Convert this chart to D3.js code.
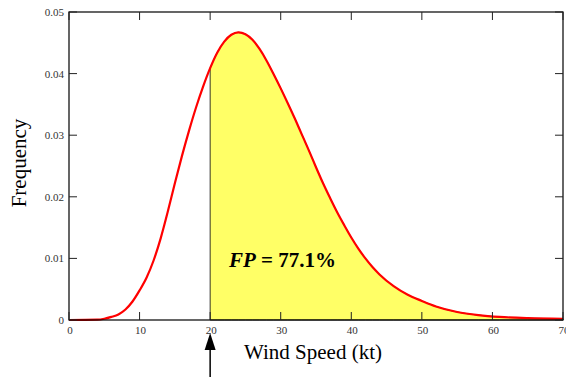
<!DOCTYPE html>
<html>
<head>
<meta charset="utf-8">
<script src="https://cdn.jsdelivr.net/npm/d3@7"></script>
<style>
  body { margin: 0; background: #fff; }
  svg { display: block; font-family: "Liberation Serif", "Times New Roman", serif; }
</style>
</head>
<body>
<div id="chart"></div>
<script>
// wind speed (kt) and frequency
const speeds = [0, 4, 5, 6, 7, 8, 9, 10, 11, 12, 13, 14, 15, 16, 17, 18, 19, 20, 21, 22, 23, 24, 25,
    26, 27, 28, 29, 30, 31, 32, 33, 34, 35, 36, 37, 38, 39, 40, 41, 42, 43, 44, 46, 48, 50, 52, 55, 58, 61, 65, 70];
const freqs = [0, 0.00005, 0.0002, 0.0005, 0.0009, 0.0017, 0.003, 0.0048, 0.0069, 0.0097, 0.0133, 0.0176,
    0.0222, 0.0266, 0.0307, 0.0345, 0.0379, 0.0409, 0.0434, 0.0452, 0.0463, 0.0467, 0.0464,
    0.0455, 0.044, 0.0421, 0.0399, 0.0376, 0.0352, 0.0327, 0.0301, 0.0275, 0.0248, 0.0222, 0.0198,
    0.0175, 0.0154, 0.0134, 0.0116, 0.01, 0.0086, 0.0074, 0.0055, 0.0041, 0.0031, 0.0022, 0.0013,
    0.0008, 0.0005, 0.0003, 0.0002];
const xTicks = [0, 10, 20, 30, 40, 50, 60, 70];
const yTicks = [0, 0.01, 0.02, 0.03, 0.04, 0.05];
const threshold = 20;
const fpLabel = '77.1%';

const width = 566, height = 377;
const margin = {top: 12, right: 3, bottom: 57, left: 69};

const data = speeds.map((s, i) => ({x: s, y: freqs[i]}));

const x = d3.scaleLinear().domain([0, 70]).range([margin.left, width - margin.right]);
const y = d3.scaleLinear().domain([0, 0.05]).range([height - margin.bottom, margin.top]);

const svg = d3.select('#chart').append('svg')
    .attr('width', width).attr('height', height);

// shaded area beyond the threshold
const shaded = data.filter(d => d.x >= threshold);
const area = d3.area().x(d => x(d.x)).y0(y(0)).y1(d => y(d.y)).curve(d3.curveMonotoneX);
svg.append('path')
    .datum(shaded)
    .attr('fill', '#ffff66')
    .attr('stroke', '#000')
    .attr('stroke-width', 0.8)
    .attr('d', area);

// curve
const line = d3.line().x(d => x(d.x)).y(d => y(d.y)).curve(d3.curveMonotoneX);
svg.append('path')
    .datum(data)
    .attr('fill', 'none')
    .attr('stroke', '#ff0000')
    .attr('stroke-width', 2.2)
    .attr('d', line);

// frame
svg.append('rect')
    .attr('x', x(0)).attr('y', y(0.05))
    .attr('width', x(70) - x(0)).attr('height', y(0) - y(0.05))
    .attr('fill', 'none').attr('stroke', '#000')
    .attr('stroke-width', 1.2);

// ticks point inward on all four sides
const tickLen = 8;
const ticks = svg.append('g').attr('stroke', '#222').attr('stroke-width', 1);
xTicks.forEach(t => {
    ticks.append('line').attr('x1', x(t)).attr('x2', x(t)).attr('y1', y(0)).attr('y2', y(0) - tickLen);
    ticks.append('line').attr('x1', x(t)).attr('x2', x(t)).attr('y1', y(0.05)).attr('y2', y(0.05) + tickLen);
});
yTicks.forEach(t => {
    ticks.append('line').attr('x1', x(0)).attr('x2', x(0) + tickLen).attr('y1', y(t)).attr('y2', y(t));
    ticks.append('line').attr('x1', x(70)).attr('x2', x(70) - tickLen).attr('y1', y(t)).attr('y2', y(t));
});

// tick labels
svg.append('g').selectAll('text')
    .data(xTicks).join('text')
    .attr('x', d => x(d) + 1).attr('y', y(0) + 14)
    .attr('text-anchor', 'middle')
    .attr('font-size', 11).attr('fill', '#333')
    .text(d => d);
svg.append('g').selectAll('text')
    .data(yTicks).join('text')
    .attr('x', x(0) - 5).attr('y', d => y(d) + 4)
    .attr('text-anchor', 'end')
    .attr('font-size', 11).attr('fill', '#333')
    .text(d => d === 0 ? '0' : d3.format('.2f')(d));

// axis titles
svg.append('text')
    .attr('x', 313).attr('y', 359)
    .attr('text-anchor', 'middle')
    .attr('font-size', 21)
    .text('Wind Speed (kt)');
svg.append('text')
    .attr('transform', `translate(26, 163) rotate(-90)`)
    .attr('text-anchor', 'middle')
    .attr('font-size', 21)
    .text('Frequency');

// FP annotation
const fp = svg.append('text')
    .attr('x', 229).attr('y', 267)
    .attr('font-size', 21).attr('font-weight', 'bold');
fp.append('tspan').attr('font-style', 'italic').text('FP');
fp.append('tspan').text(' = ' + fpLabel);

// arrow under the threshold
const ax = x(threshold);
svg.append('line')
    .attr('x1', ax).attr('x2', ax).attr('y1', 345).attr('y2', height)
    .attr('stroke', '#000').attr('stroke-width', 1.5);
svg.append('path')
    .attr('d', `M${ax},333 L${ax - 5.5},350 L${ax + 5.5},350 Z`)
    .attr('fill', '#000');
</script>
</body>
</html>
